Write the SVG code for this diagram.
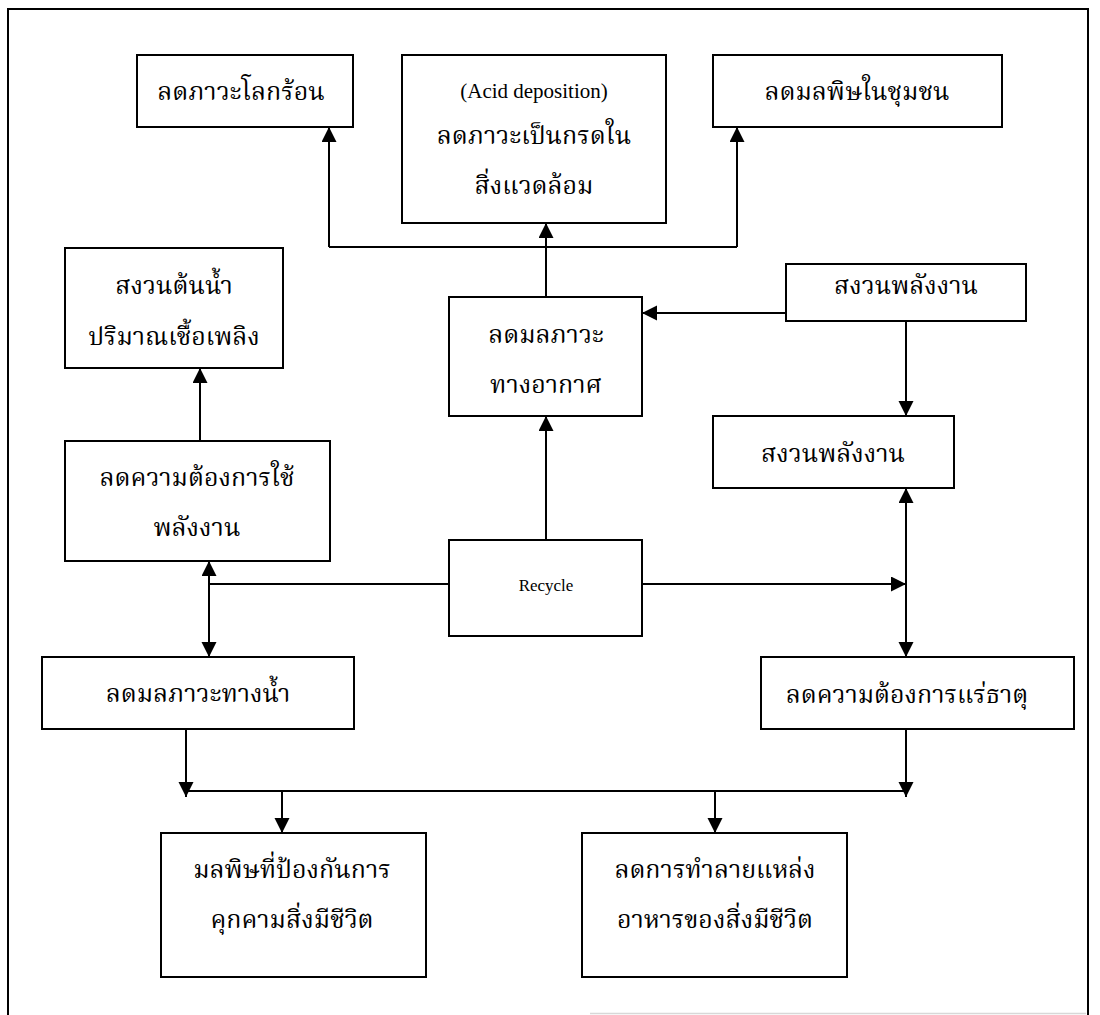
<svg xmlns="http://www.w3.org/2000/svg" width="1100" height="1015" viewBox="0 0 1100 1015">
<style>
.box{fill:#fff;stroke:#000;stroke-width:2}
.th{font-family:"Noto Serif Thai","Noto Sans Thai","Liberation Serif","DejaVu Serif",serif;font-size:25px;text-anchor:middle;fill:#000}
.en{font-family:"Liberation Serif",serif;text-anchor:middle;fill:#000}
.ln{fill:none;stroke:#000;stroke-width:2}
.ar{marker-end:url(#ah)}
</style>
<defs>
<marker id="ah" markerUnits="userSpaceOnUse" markerWidth="16" markerHeight="16" refX="15" refY="7.5" orient="auto">
<path d="M0,0 L15,7.5 L0,15 z" fill="#000"/>
</marker>
</defs>
<rect width="1100" height="1015" fill="#fff"/>
<g id="frame">
<path class="ln" d="M8,1015 V9 H1088 V1015"/>
<path d="M590,1013.5 H1086" stroke="#d8d8d8" stroke-width="1.5" fill="none"/>
</g>
<g id="connectors">
<path class="ln" d="M329,247 H737"/>
<path class="ln ar" d="M329,247 V127"/>
<path class="ln ar" d="M737,247 V127"/>
<path class="ln ar" d="M546,297 V223"/>
<path class="ln ar" d="M546,540 V416"/>
<path class="ln ar" d="M786,313 H642"/>
<path class="ln ar" d="M906,321 V416"/>
<path class="ln" d="M449,584 H209"/>
<path class="ln ar" d="M209,584 V561"/>
<path class="ln ar" d="M209,584 V657"/>
<path class="ln ar" d="M642,584 H906"/>
<path class="ln ar" d="M906,584 V488"/>
<path class="ln ar" d="M906,584 V657"/>
<path class="ln ar" d="M186,729 V797"/>
<path class="ln ar" d="M906,729 V797"/>
<path class="ln" d="M186,791 H906"/>
<path class="ln ar" d="M282,791 V833"/>
<path class="ln ar" d="M715,791 V833"/>
<path class="ln ar" d="M200,441 V368"/>
</g>
<g id="n1"><rect class="box" x="137" y="55" width="216" height="72"/><text class="th" x="241" y="100">ลดภาวะโลกร้อน</text></g>
<g id="n2"><rect class="box" x="402" y="55" width="264" height="168"/><text class="en" x="534" y="98" font-size="21">(Acid deposition)</text><text class="th" x="534" y="144">ลดภาวะเป็นกรดใน</text><text class="th" x="534" y="194">สิ่งแวดล้อม</text></g>
<g id="n3"><rect class="box" x="713" y="55" width="289" height="72"/><text class="th" x="857" y="100">ลดมลพิษในชุมชน</text></g>
<g id="n4"><rect class="box" x="65" y="248" width="218" height="120"/><text class="th" x="174" y="294">สงวนต้นน้ำ</text><text class="th" x="174" y="345">ปริมาณเชื้อเพลิง</text></g>
<g id="n5"><rect class="box" x="449" y="297" width="193" height="119"/><text class="th" x="546" y="343">ลดมลภาวะ</text><text class="th" x="546" y="393">ทางอากาศ</text></g>
<g id="n6"><rect class="box" x="786" y="264" width="240" height="57"/><text class="th" x="906" y="294">สงวนพลังงาน</text></g>
<g id="n7"><rect class="box" x="713" y="416" width="241" height="72"/><text class="th" x="833" y="462">สงวนพลังงาน</text></g>
<g id="n8"><rect class="box" x="65" y="441" width="265" height="120"/><text class="th" x="197" y="486">ลดความต้องการใช้</text><text class="th" x="197" y="536">พลังงาน</text></g>
<g id="n9"><rect class="box" x="449" y="540" width="193" height="96"/><text class="en" x="546" y="591" font-size="17">Recycle</text></g>
<g id="n10"><rect class="box" x="42" y="657" width="312" height="72"/><text class="th" x="198" y="702">ลดมลภาวะทางน้ำ</text></g>
<g id="n11"><rect class="box" x="761" y="657" width="313" height="72"/><text class="th" x="907" y="703">ลดความต้องการแร่ธาตุ</text></g>
<g id="n12"><rect class="box" x="161" y="833" width="265" height="144"/><text class="th" x="292" y="878">มลพิษที่ป้องกันการ</text><text class="th" x="292" y="928">คุกคามสิ่งมีชีวิต</text></g>
<g id="n13"><rect class="box" x="582" y="833" width="265" height="144"/><text class="th" x="715" y="878">ลดการทำลายแหล่ง</text><text class="th" x="715" y="928">อาหารของสิ่งมีชีวิต</text></g>
</svg>
